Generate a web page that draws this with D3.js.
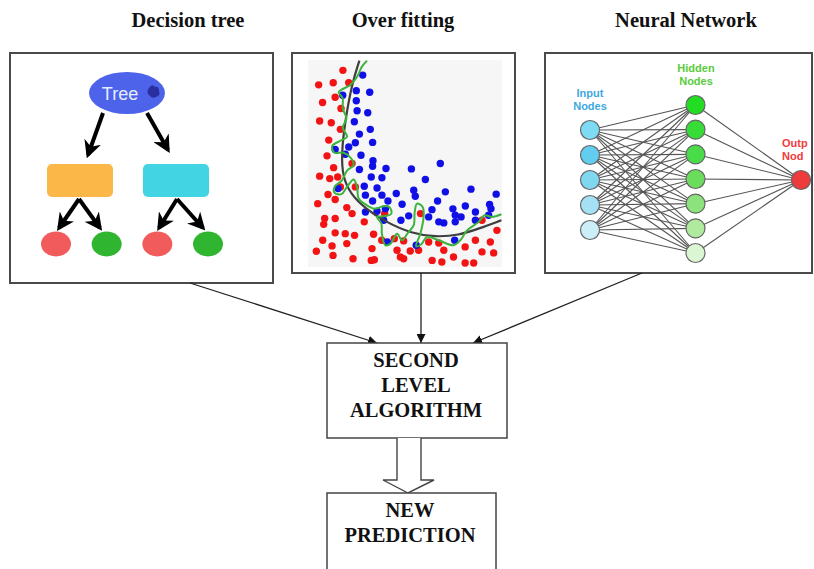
<!DOCTYPE html>
<html><head><meta charset="utf-8">
<script src="https://cdn.jsdelivr.net/npm/d3@7"></script>
<style>html,body{margin:0;padding:0;background:#fff;}svg{display:block;}</style>
</head><body>
<script>
// ---------- data ----------
const panelTitles = ["Decision tree", "Over fitting", "Neural Network"];
const treeRoot = "Tree";
const treeMiddle = ["#fbb748", "#42d4e2"];
const treeLeaves = ["#f25b5b", "#2fb52f", "#f25b5b", "#2fb52f"];
const redPoints = [[18,95],[5.5,88],[13,89],[21,89],[7.5,79.5],[14,82],[17,76.6],[6,70.5],[12,69.7],[16.7,66.5],
 [10.7,61.3],[9.8,53.7],[13.2,48],[6,43.9],[11.2,42.7],[15.3,43.5],[16.7,38.7],[10.3,35],[14,32.6],[5,30.6],
 [20,28.7],[8.6,23.4],[8.1,20.6],[14,23.4],[22.7,25.8],[29,21.8],[19.2,16.1],[14,16.5],[7.6,12.9],[12.4,10.2],
 [20,11.3],[24,15.3],[33.8,15.8],[38,12.9],[33,8.9],[4.3,7.6],[12.9,5.6],[23.2,4],[32.6,3.2],[34.2,3.5],
 [47.6,4.8],[49.3,4],[45.9,8.1],[52.7,7.7],[57,8.1],[44.5,13.7],[49.3,12.6],[64,3.2],[67.4,11.6],[70,8.1],
 [62.2,12.1],[75,4.8],[81,1.9],[85.4,1.9],[81,9.7],[86.3,12.9],[89.7,7.3],[94,12.1],[95.7,6.8],[97.4,17.7],
 [89.7,22.6],[58,25.8],[39.5,25.8],[24.4,38.7],[22.7,50],[69,2.4]];
const bluePoints = [[28.2,92.7],[24.9,85.2],[31.8,84.4],[17.9,83],[24.9,80.3],[25.3,75.5],[30.8,74.5],[23.9,70.2],
 [32.1,66.5],[26.5,64.2],[33.3,60.2],[24.4,60],[21,58],[14,56.8],[19.2,54.5],[27.3,54],[33.5,51.3],[33.3,48.7],
 [26.5,47.1],[40.2,47.6],[53.3,47.4],[68.2,50],[32.6,43.5],[38.1,43.1],[60.5,42.3],[29,39],[35.6,38.2],[15.5,37.9],
 [54.5,37.1],[70.8,36.3],[84,37.6],[97,35.2],[29.6,34.7],[38.1,34.7],[45.5,35.5],[55.3,34.2],[33.3,31.9],[41.2,31.9],
 [48.5,30.3],[66.8,31.9],[29.6,26.6],[35.6,26.9],[39.9,28.2],[63.9,27.7],[74.7,28.1],[81.1,29.5],[93.6,30.2],[94.3,28.2],
 [51.9,24.7],[47.9,22.6],[39,22.6],[62.2,24.2],[67.4,21.8],[70,21.3],[75.9,25],[78.9,24.2],[86.3,26.6],[93.1,25],
 [75.9,21.8],[86.3,22.6],[40.9,12.1],[55.8,10.5],[75.6,12.9]];
const smoothBoundary = [[26.5,99.7],[22.7,88.7],[19.2,71],[17.2,54.8],[17.9,43.5],[21.8,35.5],[29.6,28.2],[39.9,21.8],
 [53.6,16.1],[65.6,14.5],[77.7,15.3],[88,18.5],[99.7,22.6]];
const overfitBoundary = [[30.4,99.7],[27.8,96.8],[25.3,91.9],[21.8,87.9],[17.5,85.8],[15.8,84.4],[17.9,81.5],[17.9,76.6],
 [19.8,71.8],[17.9,67.4],[20.1,62.9],[16.7,61],[12.4,58.4],[13.7,55.2],[18.4,55.2],[22.3,52.4],[23.5,49.2],[20.1,46.5],
 [17.5,41.9],[13.7,38.7],[13.7,35.8],[17.2,35.2],[20.1,38.7],[23.5,42.3],[25.3,38.7],[26.1,33.1],[30.4,29.8],[34.4,28.2],
 [39,29.4],[41.9,29],[43,25.8],[39,24.5],[35.6,24.2],[37.8,21],[38.1,16.1],[39.9,10.5],[42.6,11.3],[45.9,16.1],
 [48.5,12.9],[51.5,16.5],[54.5,20.2],[55,26.6],[56.2,30.6],[59.1,29],[59.6,24.2],[57.9,16.1],[55.7,10],[58.4,11],
 [61.3,14.5],[67.4,12.9],[75,10.5],[78.5,12.9],[82,17.7],[88,21.8],[91,25],[94.8,24.2],[99.7,25.5]];
const inputColors = ["#7ddcf3", "#63cdf0", "#80d8f0", "#a4e1f4", "#cbeef8"];
const hiddenColors = ["#22dd22", "#36dd36", "#48dc48", "#6ade5c", "#8ce27c", "#afea9e", "#daf6d2"];
const outputColors = ["#ee3b3b"];
const layerLabels = [["Input", "Nodes"], ["Hidden", "Nodes"], ["Outp", "Nod"]];
const stackerLines = ["SECOND", "LEVEL", "ALGORITHM"];
const resultLines = ["NEW", "PREDICTION"];

// ---------- drawing ----------
const W = 814, H = 569;
const svg = d3.select("body").append("svg").attr("width", W).attr("height", H);
const defs = svg.append("defs");
defs.append("marker").attr("id", "thick").attr("viewBox", "0 0 10 10").attr("refX", 8).attr("refY", 5)
  .attr("markerWidth", 4.4).attr("markerHeight", 4.4).attr("orient", "auto").attr("markerUnits", "strokeWidth")
  .append("path").attr("d", "M0,0 L10,5 L0,10 L3,5 Z").attr("fill", "#000");
defs.append("marker").attr("id", "thin").attr("viewBox", "0 0 10 10").attr("refX", 10).attr("refY", 5)
  .attr("markerWidth", 9).attr("markerHeight", 9).attr("orient", "auto").attr("markerUnits", "userSpaceOnUse")
  .append("path").attr("d", "M0,0 L10,5 L0,10 Z").attr("fill", "#111");
defs.append("clipPath").attr("id", "nnclip").append("rect").attr("x", 545).attr("y", 53).attr("width", 267).attr("height", 220);

const serif = "'Liberation Serif','Times New Roman',serif";
const sans = "'Liberation Sans',Arial,sans-serif";

// titles
const titleCenters = [188, 403, 686];
svg.selectAll("text.title").data(panelTitles).join("text").attr("class", "title")
  .attr("x", (d, i) => titleCenters[i]).attr("y", 27).attr("text-anchor", "middle")
  .attr("font-family", serif).attr("font-weight", "bold").attr("font-size", 20.5).attr("fill", "#111").text(d => d);

// panel frames
const panels = [[10, 53, 263, 230], [292, 53, 223, 220], [545, 53, 267, 220]];
svg.selectAll("rect.panel").data(panels).join("rect").attr("class", "panel")
  .attr("x", d => d[0]).attr("y", d => d[1]).attr("width", d => d[2]).attr("height", d => d[3])
  .attr("fill", "#fff").attr("stroke", "#4a4a4a").attr("stroke-width", 2);

// ---- decision tree ----
const tree = svg.append("g");
const arrowsT = [[[103,113],[88,155]], [[147,113],[168,150]], [[79,199],[59,228]], [[79,199],[100,228]],
                 [[177,199],[159,228]], [[177,199],[203,228]]];
tree.selectAll("line").data(arrowsT).join("line")
  .attr("x1", d => d[0][0]).attr("y1", d => d[0][1]).attr("x2", d => d[1][0]).attr("y2", d => d[1][1])
  .attr("stroke", "#000").attr("stroke-width", 4).attr("marker-end", "url(#thick)");
tree.append("ellipse").attr("cx", 127).attr("cy", 93).attr("rx", 38).attr("ry", 21).attr("fill", "#4c63ea");
tree.append("text").attr("x", 120).attr("y", 100).attr("text-anchor", "middle").attr("font-family", sans)
  .attr("font-size", 18).attr("fill", "#e8ecff").text(treeRoot);
tree.append("path").attr("d", "M149,88 q3,-5 6,-1 q4,-1 4,4 q2,4 -3,6 q-4,2 -7,-2 q-3,-3 0,-7 Z").attr("fill", "#2a2fa0");
const midX = d3.scalePoint().domain(d3.range(treeMiddle.length)).range([80, 176]);
tree.selectAll("rect").data(treeMiddle).join("rect")
  .attr("x", (d, i) => midX(i) - 33).attr("y", 164).attr("width", 66).attr("height", 33).attr("rx", 5).attr("fill", d => d);
const leafX = d3.scalePoint().domain(d3.range(treeLeaves.length)).range([56, 208]);
tree.selectAll("ellipse.leaf").data(treeLeaves).join("ellipse").attr("class", "leaf")
  .attr("cx", (d, i) => leafX(i)).attr("cy", 244).attr("rx", 15).attr("ry", 12.5).attr("fill", d => d);

// ---- over fitting ----
const of = svg.append("g");
of.append("rect").attr("x", 308).attr("y", 60).attr("width", 194).attr("height", 207).attr("fill", "#f6f6f6");
const sx = d3.scaleLinear().domain([0, 100]).range([308, 502]);
const sy = d3.scaleLinear().domain([0, 100]).range([267, 60]);
of.selectAll("circle.r").data(redPoints).join("circle").attr("class", "r")
  .attr("cx", d => sx(d[0])).attr("cy", d => sy(d[1])).attr("r", 3.7).attr("fill", "#f21414");
of.selectAll("circle.b").data(bluePoints).join("circle").attr("class", "b")
  .attr("cx", d => sx(d[0])).attr("cy", d => sy(d[1])).attr("r", 3.7).attr("fill", "#1010e6");
const ln = d3.line().x(d => sx(d[0])).y(d => sy(d[1]));
of.append("path").attr("d", ln.curve(d3.curveBasis)(smoothBoundary)).attr("fill", "none")
  .attr("stroke", "#3f3f3f").attr("stroke-width", 2.2);
of.append("path").attr("d", ln.curve(d3.curveCatmullRom.alpha(0.5))(overfitBoundary)).attr("fill", "none")
  .attr("stroke", "#3cb43c").attr("stroke-width", 2);

// ---- neural network ----
const nn = svg.append("g").attr("clip-path", "url(#nnclip)");
const layers = [inputColors, hiddenColors, outputColors];
const layerX = d3.scalePoint().domain([0, 1, 2]).range([590, 801]);
const yScale = d3.scaleLinear().domain([0, 1]).range([105, 253]);
function nodeY(li, i) {
  const n = layers[li].length;
  if (li === 0) return 130 + i * 25;
  if (li === 1) return yScale(i / (n - 1));
  return 180;
}
const edges = [];
for (let l = 0; l < 2; l++)
  layers[l].forEach((_, i) => layers[l + 1].forEach((_, j) =>
    edges.push([layerX(l), nodeY(l, i), layerX(l + 1), nodeY(l + 1, j)])));
nn.selectAll("line").data(edges).join("line")
  .attr("x1", d => d[0]).attr("y1", d => d[1]).attr("x2", d => d[2]).attr("y2", d => d[3])
  .attr("stroke", "#555").attr("stroke-width", 1.1);
layers.forEach((cols, li) => {
  nn.selectAll("circle.l" + li).data(cols).join("circle").attr("class", "l" + li)
    .attr("cx", layerX(li)).attr("cy", (d, i) => nodeY(li, i)).attr("r", 9.5)
    .attr("fill", d => d).attr("stroke", "#666").attr("stroke-width", 1.2);
});
const labelCols = ["#3ea8de", "#5acb3c", "#f03c3c"];
const labelPos = [[590, 97, "middle"], [696, 72, "middle"], [782, 147, "start"]];
layerLabels.forEach((lines, li) => {
  nn.selectAll("text.lab" + li).data(lines).join("text").attr("class", "lab" + li)
    .attr("x", labelPos[li][0]).attr("y", (d, i) => labelPos[li][1] + i * 13).attr("text-anchor", labelPos[li][2])
    .attr("font-family", sans).attr("font-weight", "bold").attr("font-size", 11).attr("fill", labelCols[li]).text(d => d);
});

// ---- connecting arrows ----
const links = [[[190,283],[377,343]], [[421,273],[421,343]], [[642,273],[473,343]]];
svg.selectAll("line.link").data(links).join("line").attr("class", "link")
  .attr("x1", d => d[0][0]).attr("y1", d => d[0][1]).attr("x2", d => d[1][0]).attr("y2", d => d[1][1])
  .attr("stroke", "#222").attr("stroke-width", 1.3).attr("marker-end", "url(#thin)");

// second level box
svg.append("rect").attr("x", 327).attr("y", 343).attr("width", 180).attr("height", 95)
  .attr("fill", "#fff").attr("stroke", "#444").attr("stroke-width", 1.5);
svg.selectAll("text.stk").data(stackerLines).join("text").attr("class", "stk")
  .attr("x", 416).attr("y", (d, i) => 367 + i * 25).attr("text-anchor", "middle")
  .attr("font-family", serif).attr("font-weight", "bold").attr("font-size", 20.5).attr("fill", "#111").text(d => d);

// hollow arrow
svg.append("path").attr("d", "M397,438 L397,480 L383,480 L408,493 L434,480 L421,480 L421,438")
  .attr("fill", "#fff").attr("stroke", "#444").attr("stroke-width", 1.4);

// result box
svg.append("rect").attr("x", 327).attr("y", 493).attr("width", 169).attr("height", 90)
  .attr("fill", "#fff").attr("stroke", "#444").attr("stroke-width", 1.5);
svg.selectAll("text.res").data(resultLines).join("text").attr("class", "res")
  .attr("x", 410).attr("y", (d, i) => 517 + i * 25).attr("text-anchor", "middle")
  .attr("font-family", serif).attr("font-weight", "bold").attr("font-size", 20.5).attr("fill", "#111").text(d => d);
</script>
</body></html>
